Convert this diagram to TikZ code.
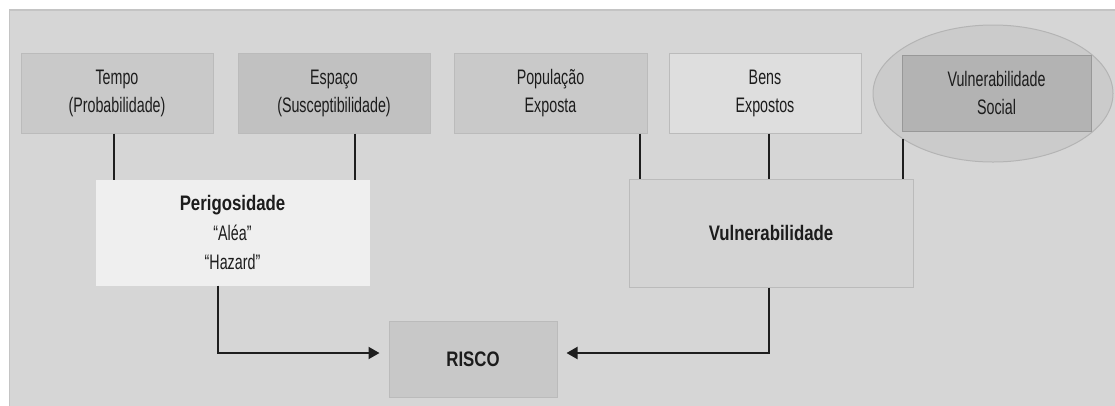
\documentclass[tikz,border=0pt]{standalone}
\usepackage{fontspec}
\usetikzlibrary{arrows.meta,shapes.geometric}
\newfontfamily\regfont{Liberation Sans}[FakeStretch=0.68]
\newfontfamily\boldfam{Liberation Sans}[FakeStretch=0.80]
\definecolor{panel}{HTML}{D6D6D6}
\definecolor{panelline}{HTML}{C4C4C4}
\definecolor{txt}{HTML}{1C1C1C}
\definecolor{linec}{HTML}{1E1E1E}
\definecolor{fTempo}{HTML}{C9C9C9}
\definecolor{fEspaco}{HTML}{C1C1C1}
\definecolor{fPop}{HTML}{C9C9C9}
\definecolor{fBens}{HTML}{DEDEDE}
\definecolor{fVS}{HTML}{B3B3B3}
\definecolor{fEll}{HTML}{CBCBCB}
\definecolor{lEll}{HTML}{B4B4B4}
\definecolor{fPer}{HTML}{EFEFEF}
\definecolor{fVul}{HTML}{D4D4D4}
\definecolor{fRisco}{HTML}{C8C8C8}
\definecolor{boxline}{HTML}{BBBBBB}
\tikzset{
  cell/.style={rectangle, draw=boxline, line width=1pt, inner sep=0pt, align=center,
    text=txt, font=\fontsize{21}{28}\selectfont\regfont},
  bigcell/.style={cell, font=\fontsize{21}{29.5}\selectfont\regfont},
  link/.style={draw=linec, line width=2pt},
  flow/.style={link, -{Triangle[length=11pt,width=12pt]}}
}
\newcommand{\bt}[1]{{\boldfam\bfseries #1}}
\begin{document}
\begin{tikzpicture}[x=1pt,y=-1pt]
\useasboundingbox (0,0) rectangle (1115,405);
\fill[white] (0,0) rectangle (1115,405);
\begin{scope}
\clip (0,0) rectangle (1115,405);
\draw[fill=panel, draw=panelline, line width=1.5pt] (9.5,10) rectangle (1125,415);
\end{scope}
% top row
\node[cell, fill=fTempo, minimum width=192pt, minimum height=80pt] (tempo) at (117,93) {Tempo\\(Probabilidade)};
\node[cell, fill=fEspaco, minimum width=192pt, minimum height=80pt] (espaco) at (334,93) {Espaço\\(Susceptibilidade)};
\node[cell, fill=fPop, minimum width=193pt, minimum height=80pt] (pop) at (550.5,93) {População\\Exposta};
\node[cell, fill=fBens, minimum width=192pt, minimum height=80pt] (bens) at (765,93) {Bens\\Expostos};
\node[ellipse, draw=lEll, fill=fEll, line width=1pt, minimum width=240pt, minimum height=137pt, inner sep=0pt] (ell) at (993,93.5) {};
\node[cell, fill=fVS, draw=fVS!85!black, minimum width=189pt, minimum height=76pt] (vs) at (996.5,93) {Vulnerabilidade\\Social};
% middle row
\node[bigcell, fill=fPer, draw=fPer, minimum width=273pt, minimum height=105pt] (per) at (232.5,232.5) {\bt{Perigosidade}\\“Aléa”\\“Hazard”};
\node[cell, fill=fVul, minimum width=284pt, minimum height=108pt] (vul) at (771,233) {\bt{Vulnerabilidade}};
% bottom
\node[cell, fill=fRisco, draw=boxline, minimum width=168pt, minimum height=76pt] (risco) at (473,359) {\bt{RISCO}};
% connectors
\coordinate (vsl) at (903,138.8);
\draw[link] ([xshift=-3pt]tempo.south) -- ([xshift=-3pt]tempo.south |- per.north);
\draw[link] ([xshift=21pt]espaco.south) -- ([xshift=21pt]espaco.south |- per.north);
\draw[link] ([xshift=89.5pt]pop.south) -- ([xshift=89.5pt]pop.south |- vul.north);
\draw[link] ([xshift=4pt]bens.south) -- ([xshift=4pt]bens.south |- vul.north);
\draw[link] (vsl) -- (vsl |- vul.north);
\draw[flow] ([xshift=-14.5pt]per.south) |- ([xshift=-9pt,yshift=6pt]risco.west);
\draw[flow] ([xshift=-2pt]vul.south) |- ([xshift=9pt,yshift=6pt]risco.east);
\end{tikzpicture}
\end{document}
